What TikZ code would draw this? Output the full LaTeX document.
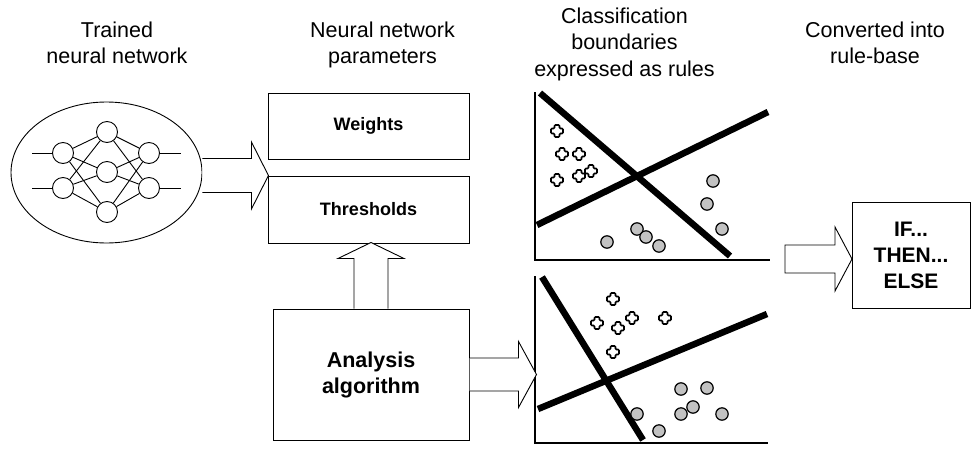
\documentclass[tikz,border=0pt]{standalone}
\usepackage{fontspec}
\setmainfont{Liberation Sans}
\usetikzlibrary{shapes.geometric,calc}
\definecolor{dotgrey}{gray}{0.76}
\begin{document}
\begin{tikzpicture}[x=1pt,y=-1pt,
  head/.style={align=center, anchor=north, inner sep=0pt,
    font=\fontsize{21.5}{26.5}\selectfont},
  pbox/.style={draw, line width=1pt, fill=white, inner sep=0pt, align=center},
  neuron/.style={circle, draw, fill=white, minimum size=21, inner sep=0pt, line width=0.9pt},
  link/.style={line width=0.9pt},
  axisline/.style={line width=1.6pt},
  bound/.style={line width=6.5pt, line cap=butt},
  dotc/.style={draw, fill=dotgrey, line width=1.2pt},
  arrowline/.style={draw, fill=white, line width=0.9pt, line join=miter},
  pics/barrow/.style n args={5}{code={
    \filldraw[arrowline] (0,-#2) -- (#1-#4,-#2) -- (#1-#4,-#3) -- (#1,0)
      -- (#1-#4,#3) -- (#1-#4,#2) -- (0,#2) #5;}},
  pics/plusmark/.style={code={
    \filldraw[fill=white, line width=1.7pt, rounded corners=1pt]
      (-2.5,-6) -- (2.5,-6) -- (2.5,-2.5) -- (6,-2.5) -- (6,2.5) -- (2.5,2.5)
      -- (2.5,6) -- (-2.5,6) -- (-2.5,2.5) -- (-6,2.5) -- (-6,-2.5) -- (-2.5,-2.5) -- cycle;}}
]
\useasboundingbox (0,0) rectangle (971,450);

% column headings
\node[head] (t1) at (117,21.6) {Trained\\neural network};
\node[head] (t2) at (382.5,21.6) {Neural network\\parameters};
\node[head] (t3) at (624.5,7.5) {Classification\\boundaries\\expressed as rules};
\node[head] (t4) at (875,21.5) {Converted into\\rule-base};

% trained network
\node[ellipse, draw, line width=0.9pt, minimum width=191, minimum height=141, inner sep=0pt] (ell) at (106.5,172.5) {};
\node[neuron] (i1) at (63,153) {};
\node[neuron] (i2) at (63,188) {};
\node[neuron] (h1) at (107,132) {};
\node[neuron] (h2) at (107,172) {};
\node[neuron] (h3) at (107,212) {};
\node[neuron] (o1) at (149,153) {};
\node[neuron] (o2) at (149,188) {};
\coordinate (in1) at (32,153);
\coordinate (in2) at (32,188);
\coordinate (out1) at (181,153);
\coordinate (out2) at (181,188);
\draw[link] (in1) -- (i1) (in2) -- (i2) (o1) -- (out1) (o2) -- (out2);
\foreach \a in {i1,i2} \foreach \b in {h1,h2,h3} \draw[link] (\a) -- (\b);
\foreach \a in {h1,h2,h3} \foreach \b in {o1,o2} \draw[link] (\a) -- (\b);

% parameter boxes
\node[pbox, minimum width=201, minimum height=66, font=\bfseries\fontsize{18}{22}\selectfont] (wts) at (368.5,126) {Weights};
\node[pbox, minimum width=201, minimum height=67, font=\bfseries\fontsize{18}{22}\selectfont] (thr) at (368.5,209.5) {Thresholds};
\node[pbox, minimum width=196, minimum height=131, font=\bfseries\fontsize{21.5}{26}\selectfont] (ana) at (371,374.5) {Analysis\\algorithm};
\node[pbox, minimum width=118, minimum height=106, font=\bfseries\fontsize{21}{26}\selectfont] (rule) at (911,255) {IF...\\THEN...\\ELSE};

% upper classification plot
\draw[axisline] (535,92) -- (535,260) -- (770,260);
\draw[bound] (540,93) -- (730,256);
\draw[bound] (537,225) -- (768,112);
\foreach \p in {(557,131),(562,154),(579,154),(557,180),(579,176),(591,171)}
  \pic at \p {plusmark};
\foreach \p in {(713,181),(707,204),(722,229),(637,229),(646,237),(659,246),(607,242)}
  \draw[dotc] \p circle[radius=6.2];

% lower classification plot
\coordinate (ax2) at (535,443);
\draw[axisline] (535,276) -- (ax2) -- (768,443);
\draw[bound] (542,277) -- (643,440);
\draw[bound] (538,409) -- (767,314);
\foreach \p in {(613,299),(597,323),(618,328),(632,318),(665,318),(613,352)}
  \pic at \p {plusmark};
\foreach \p in {(681,389),(707,388),(693,407),(681,414),(637,414),(722,414),(659,431)}
  \draw[dotc] \p circle[radius=6.2];

% block arrows
\pic at (ell.east |- thr.north west) {barrow={66}{17}{33.5}{17}{}};
\pic[rotate=90] at (ana.north) {barrow={66}{17}{33}{16}{}};
\pic at (ana.east) {barrow={67}{16.5}{33}{18}{}};
\coordinate (rtail) at (785,259);
\pic at (rtail) {barrow={67}{14}{32}{17}{-- cycle}};
\end{tikzpicture}
\end{document}
